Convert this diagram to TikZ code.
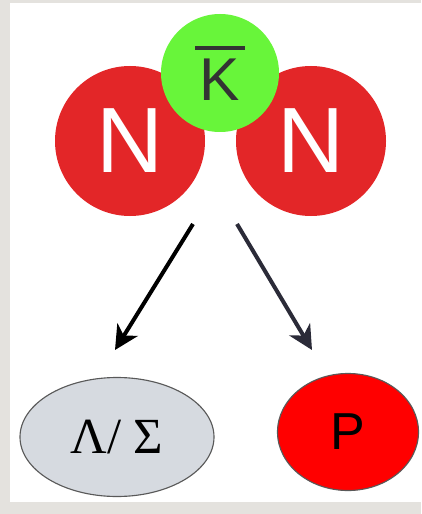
\documentclass[tikz,border=0pt]{standalone}
\usepackage{fontspec}
\setmainfont{Liberation Sans}
\newfontfamily\greekfont{Liberation Serif}
\usetikzlibrary{arrows.meta,shapes.geometric}
\definecolor{nred}{RGB}{227,38,40}
\definecolor{kgreen}{RGB}{104,245,58}
\definecolor{ktext}{RGB}{51,51,51}
\definecolor{hgray}{RGB}{214,218,224}
\definecolor{framegray}{RGB}{228,226,222}
\definecolor{arrowgray}{RGB}{43,43,56}
\begin{document}
\begin{tikzpicture}[
  nucleon/.style={circle, fill=nred, text=white, minimum size=3.75cm, inner sep=0pt, font=\fontsize{66}{66}\selectfont},
  kaon/.style={circle, fill=kgreen, text=ktext, minimum size=2.95cm, inner sep=0pt, align=center, font=\fontsize{43}{36}\selectfont},
  hyperon/.style={ellipse, draw=black!65, thick, fill=hgray, minimum width=4.85cm, minimum height=2.975cm, inner sep=0pt, font=\greekfont\fontsize{36}{36}\selectfont},
  proton/.style={ellipse, draw=black!65, thick, fill=red, minimum width=3.525cm, minimum height=2.925cm, inner sep=0pt, font=\fontsize{37}{37}\selectfont},
  arrow/.style={-{Stealth[length=0.6cm, width=0.6cm, inset=0.18cm]}, line width=0.1cm}
]
\useasboundingbox (0,0) rectangle (10.525,-12.85);
\fill[framegray] (0,0) rectangle (10.525,-12.85);
\fill[white] (0.25,-0.075) rectangle (10.525,-12.55);
\node[nucleon] (nleft) at (3.25,-3.525) {N};
\node[nucleon] (nright) at (7.775,-3.525) {N};
\node[kaon] (kbar) at (5.5,-1.825) {\rule{1.25cm}{0.1cm}\\K};
\node[hyperon] (hyperon) at (2.925,-10.925) {Λ/ Σ};
\node[proton] (proton) at (8.7,-10.8) {P};
\coordinate (lstart) at (4.825,-5.6);
\coordinate (ltip) at (2.875,-8.75);
\coordinate (rstart) at (5.925,-5.6);
\coordinate (rtip) at (7.8,-8.75);
\draw[arrow] (lstart) -- (ltip);
\draw[arrow, arrowgray] (rstart) -- (rtip);
\end{tikzpicture}
\end{document}
